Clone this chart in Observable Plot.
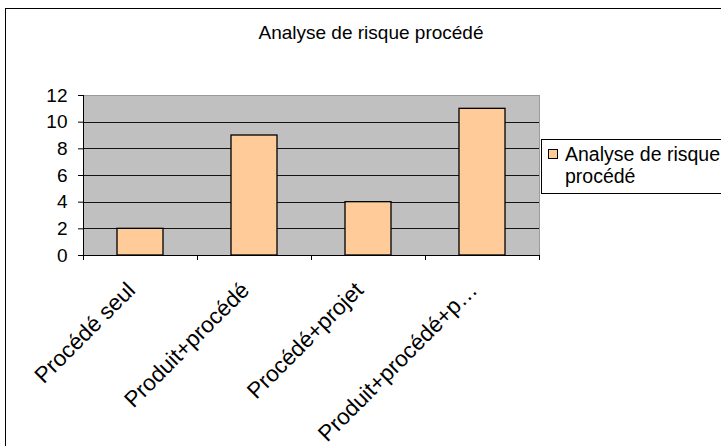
<!DOCTYPE html>
<html>
<head>
<meta charset="utf-8">
<script src="https://cdn.jsdelivr.net/npm/d3@7"></script>
<script src="https://cdn.jsdelivr.net/npm/@observablehq/plot@0.6"></script>
<style>
  html, body { margin: 0; padding: 0; background: #fff; overflow: hidden; }
  body { width: 721px; height: 446px; position: relative; font-family: "Liberation Sans", Arial, sans-serif; }
  #frame { position: absolute; left: 5px; top: 8px; width: 732px; height: 460px; border: 1px solid #000; box-sizing: border-box; }
  #title { position: absolute; left: 5px; top: 22px; width: 732px; text-align: center; font-size: 19px; line-height: 22px; color: #000; }
  #chart { position: absolute; left: 0; top: 0; }
  #legend { position: absolute; left: 541px; top: 139px; width: 200px; height: 55px; border: 1px solid #000; box-sizing: border-box; background: #fff; }
  #legend .sw { position: absolute; left: 6px; top: 9px; width: 8px; height: 8px; border: 1px solid #000; background: #ffcc99; }
  #legend .lbl { position: absolute; left: 23px; top: 3px; font-size: 19.5px; line-height: 22px; color: #000; white-space: nowrap; }
</style>
</head>
<body>
<div id="frame"></div>
<div id="title"></div>
<div id="chart"></div>
<div id="legend"><div class="sw"></div><div class="lbl"></div></div>
<script>
const chartTitle = "Analyse de risque procédé";
const seriesName = "Analyse de risque procédé";
const legendLines = ["Analyse de risque", "procédé"];
const categories = ["Procédé seul", "Produit+procédé", "Procédé+projet", "Produit+procédé+p…"];
const values = [2, 9, 4, 11];
const yTicks = [0, 2, 4, 6, 8, 10, 12];

const data = categories.map((c, i) => ({category: c, value: values[i]}));

document.getElementById("title").textContent = chartTitle;
document.querySelector("#legend .lbl").innerHTML = legendLines.join("<br>");

const axisLines = (index, scales, values, dims) => {
  const x = scales.x;
  const bw = x.bandwidth();
  const step = x(categories[1]) - x(categories[0]);
  const y0 = dims.height - dims.marginBottom;
  const xl = dims.marginLeft, xr = dims.width - dims.marginRight;
  const g = d3.create("svg:g").attr("stroke", "#000").attr("stroke-width", 1).attr("shape-rendering", "crispEdges");
  const xs = categories.map(c => x(c) + bw / 2 - step / 2);
  xs.push(xs[xs.length - 1] + step);
  g.selectAll("line.t").data(xs).join("line").attr("class", "t")
    .attr("x1", d => d).attr("x2", d => d).attr("y1", y0).attr("y2", y0 + 5);
  g.append("line").attr("x1", xl).attr("x2", xr).attr("y1", y0).attr("y2", y0);
  g.append("line").attr("x1", xl).attr("x2", xl).attr("y1", dims.marginTop).attr("y2", y0);
  return g.node();
};

const plot = Plot.plot({
  width: 721,
  height: 446,
  marginLeft: 83,
  marginRight: 182,
  marginTop: 95,
  marginBottom: 191,
  style: {fontFamily: "'Liberation Sans', Arial, sans-serif", background: "transparent", overflow: "visible"},
  x: {domain: categories, paddingInner: 0.6, paddingOuter: 0.3, axis: null},
  y: {domain: [0, 12], axis: null},
  marks: [
    Plot.frame({fill: "#c0c0c0", stroke: "#9a9a9a"}),
    Plot.ruleY(yTicks.filter(t => t > 0 && t < 12), {stroke: "#000", strokeOpacity: 0.9, shapeRendering: "crispEdges"}),
    Plot.barY(data, {x: "category", y: "value", fill: "#ffcc99", stroke: "#000", strokeWidth: 1.3}),
    Plot.axisY({ticks: yTicks, tickSize: 5, tickPadding: 11, fontSize: 19, label: null, stroke: "#000", color: "#000"}),
    axisLines,
    Plot.text(data, {x: "category", y: () => 0, text: "category", rotate: -45, textAnchor: "end", lineAnchor: "middle", dy: 31, dx: -9, fontSize: 22.5, fill: "#000"})
  ]
});
document.getElementById("chart").appendChild(plot);
</script>
</body>
</html>
